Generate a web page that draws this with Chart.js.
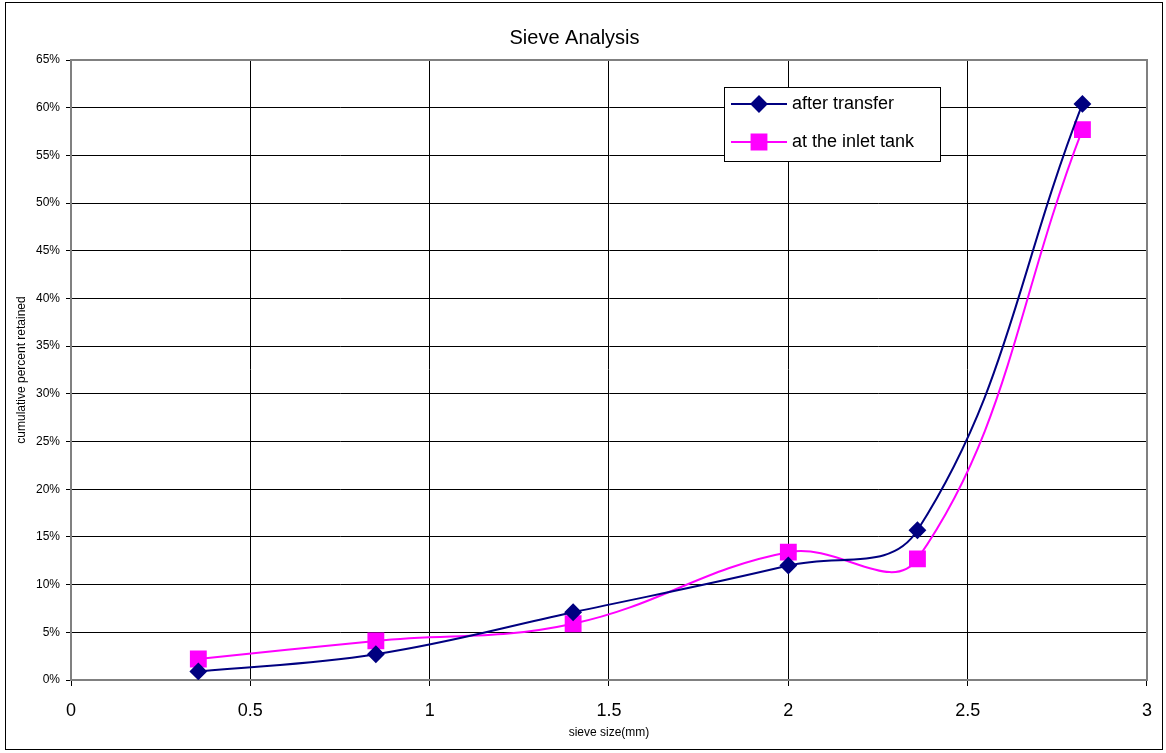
<!DOCTYPE html>
<html>
<head>
<meta charset="utf-8">
<script src="https://cdn.jsdelivr.net/npm/chart.js@4"></script>
<style>
  html, body { margin: 0; padding: 0; background: #fff; }
  #wrap { width: 1166px; height: 753px; }
</style>
</head>
<body>
<div id="wrap"><canvas id="sieveChart"></canvas></div>
<script>
const sieveSizes = [0.355, 0.85, 1.4, 2.0, 2.36, 2.82];
const afterTransfer = [0.9, 2.7, 7.1, 12.0, 15.7, 60.4];
const inletTank = [2.2, 4.1, 5.9, 13.4, 12.7, 57.7];
const seriesNames = ['after transfer', 'at the inlet tank'];

const toPoints = (xs, ys) => xs.map((x, i) => ({ x: x, y: ys[i] }));

// outer frame, plot frame and the legend box
const frame = {
    id: 'frame',
    beforeDatasetsDraw(chart) {
        const { ctx, chartArea: a } = chart;
        ctx.save();
        ctx.strokeStyle = '#808080';
        ctx.lineWidth = 2;
        ctx.strokeRect(a.left, a.top, a.right - a.left, a.bottom - a.top);
        ctx.restore();
    },
    afterDraw(chart) {
        const ctx = chart.ctx;
        ctx.save();
        ctx.strokeStyle = '#000';
        ctx.lineWidth = 1;
        ctx.strokeRect(5.5, 2.5, 1157, 747);

        // legend
        ctx.fillStyle = '#fff';
        ctx.fillRect(724, 87, 217, 75);
        ctx.strokeRect(724.5, 87.5, 216, 74);
        ctx.font = '18px "Liberation Sans", Arial, sans-serif';
        ctx.textBaseline = 'middle';
        chart.data.datasets.forEach((ds, i) => {
            const y = 104 + i * 38;
            ctx.strokeStyle = ds.borderColor;
            ctx.lineWidth = 2;
            ctx.beginPath();
            ctx.moveTo(731, y);
            ctx.lineTo(787, y);
            ctx.stroke();
            Chart.helpers.drawPoint(ctx, { pointStyle: ds.pointStyle, radius: ds.pointRadius, borderWidth: 1 }, 759, y);
            ctx.fillStyle = ds.pointBackgroundColor;
            ctx.fill();
            ctx.fillStyle = '#000';
            ctx.fillText(ds.label, 792, y);
        });
        ctx.restore();
    }
};

new Chart(document.getElementById('sieveChart'), {
    type: 'line',
    data: {
        datasets: [
            {
                label: seriesNames[0],
                data: toPoints(sieveSizes, afterTransfer),
                borderColor: '#000080',
                backgroundColor: '#000080',
                pointBackgroundColor: '#000080',
                pointBorderColor: '#000080',
                pointStyle: 'rectRot',
                pointRadius: 7.5,
                borderWidth: 2,
                tension: 0.4
            },
            {
                label: seriesNames[1],
                data: toPoints(sieveSizes, inletTank),
                borderColor: '#ff00ff',
                backgroundColor: '#ff00ff',
                pointBackgroundColor: '#ff00ff',
                pointBorderColor: '#ff00ff',
                pointStyle: 'rect',
                pointRadius: 10.5,
                borderWidth: 2,
                tension: 0.4
            }
        ]
    },
    options: {
        responsive: true,
        maintainAspectRatio: false,
        animation: false,
        layout: { padding: { left: 0, right: 17, top: 0, bottom: 0 } },
        plugins: {
            legend: { display: false },
            tooltip: { enabled: false },
            title: {
                display: true,
                text: 'Sieve Analysis',
                color: '#000',
                font: { family: '"Liberation Sans", Arial, sans-serif', size: 20, weight: 'normal' },
                padding: { top: 26, bottom: 10 }
            }
        },
        scales: {
            x: {
                type: 'linear',
                min: 0,
                max: 3,
                afterFit: s => { s.height = 73; },
                ticks: {
                    stepSize: 0.5,
                    color: '#000',
                    padding: 14,
                    maxRotation: 0,
                    callback: v => String(v),
                    font: { family: '"Liberation Sans", Arial, sans-serif', size: 18 }
                },
                grid: { color: '#000', lineWidth: 1, tickLength: 6 },
                border: { color: '#000', width: 2 },
                title: {
                    display: true,
                    text: 'sieve size(mm)',
                    color: '#000',
                    font: { family: '"Liberation Sans", Arial, sans-serif', size: 12 },
                    padding: { top: 0, bottom: 12.8 }
                }
            },
            y: {
                min: 0,
                max: 65,
                afterFit: s => { s.width = 71; },
                ticks: {
                    stepSize: 5,
                    color: '#000',
                    padding: 6,
                    callback: v => v + '%',
                    font: { family: '"Liberation Sans", Arial, sans-serif', size: 12 }
                },
                grid: { color: '#000', lineWidth: 1, tickLength: 5 },
                border: { color: '#808080', width: 2 },
                title: {
                    display: true,
                    text: 'cumulative percent retained',
                    color: '#000',
                    font: { family: '"Liberation Sans", Arial, sans-serif', size: 12 },
                    padding: { top: 14.8, bottom: 0 }
                }
            }
        }
    },
    plugins: [frame]
});
</script>
</body>
</html>
